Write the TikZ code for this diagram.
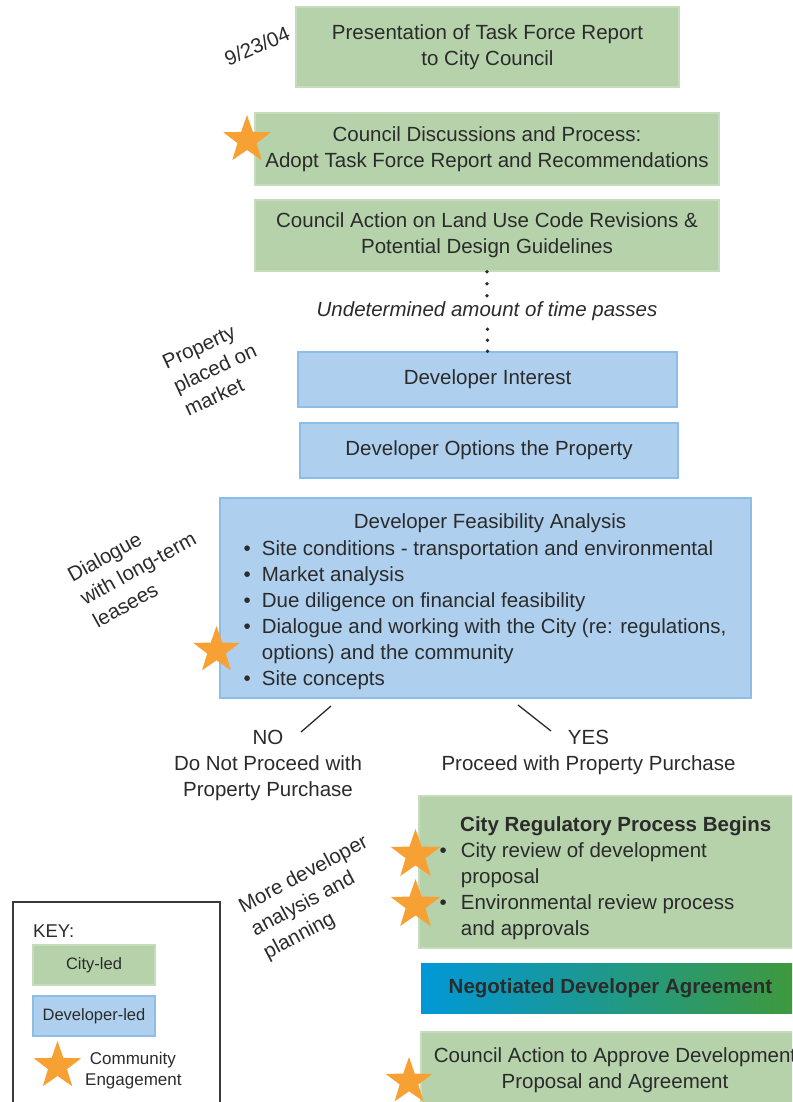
\documentclass[tikz,border=0pt]{standalone}
\usepackage{fontspec}
\setmainfont{Liberation Sans}
\usetikzlibrary{shapes.geometric}

\definecolor{cityfill}{HTML}{B5D2AB}
\definecolor{cityedge}{HTML}{C6DCBC}
\definecolor{devfill}{HTML}{AED0EE}
\definecolor{devedge}{HTML}{8EBEE8}
\definecolor{starorange}{HTML}{F7A033}
\definecolor{ink}{HTML}{2B2B2B}
\definecolor{gradblue}{HTML}{0098D8}
\definecolor{gradgreen}{HTML}{40993A}
\definecolor{keyedge}{HTML}{3A3A3A}

\newcommand\bodyfont{\fontsize{20.5}{26}\selectfont}
\newcommand\keyfont{\fontsize{16.5}{21}\selectfont}

\tikzset{
  citybox/.style={rectangle, fill=cityfill, draw=cityedge, line width=1.5pt,
    inner sep=0pt, align=center, text=ink},
  devbox/.style={rectangle, fill=devfill, draw=devedge, line width=1.5pt,
    inner sep=0pt, align=center, text=ink},
  cstar/.style={star, star points=5, star point ratio=2.5, fill=starorange,
    inner sep=0pt, minimum size=#1},
  cstar/.default=50pt,
  plain/.style={text=ink, inner sep=0pt},
  sidenote/.style={text=ink, inner sep=0pt, align=left},
  dots/.style={line width=3.6pt, line cap=round, dash pattern=on 0pt off #1, ink},
  tick/.style={line width=1.3pt, ink},
}

\begin{document}
\begin{tikzpicture}[x=1pt, y=-1pt, font=\bodyfont]
\useasboundingbox (0,0) rectangle (792,1102);
\clip (0,0) rectangle (792,1102);

% ---- council steps
\node[citybox, minimum width=383pt, minimum height=80pt] (b1) at (487.5,47)
  {Presentation of Task Force Report\\to City Council};
\node[sidenote, rotate=23] (date) at (257,46) {9/23/04};

\node[citybox, minimum width=464pt, minimum height=72pt] (b2) at (487,149)
  {Council Discussions and Process:\\Adopt Task Force Report and Recommendations};
\node[cstar=50pt] (s1) at (247,140) {};

\node[citybox, minimum width=464pt, minimum height=71pt] (b3) at (487,235.5)
  {Council Action on Land Use Code Revisions \&\\Potential Design Guidelines};

% ---- developer steps
\node[devbox, minimum width=379pt, minimum height=55pt] (b4) at (487.5,379.5)
  {Developer Interest};
\node[devbox, minimum width=378pt, minimum height=55pt] (b5) at (489,450.5)
  {Developer Options the Property};
\node[sidenote, rotate=25] (market) at (215,368) {Property\\placed on\\market};

% ---- waiting period
\node[plain, font=\bodyfont\itshape] (wait) at (487,311) {Undetermined amount of time passes};
\draw[dots=12pt] (b3.south) -- ++(0,24);
\draw[dots=11pt] (b4.north) -- ++(0,-22);

\node[devbox, minimum width=531pt, minimum height=200pt] (b6) at (485.5,598) {};
\node[plain, anchor=base] (b6title) at (490,528) {Developer Feasibility Analysis};
\node[plain, anchor=base west] (b6list) at (243.5,555)
  {\begin{tabular}[t]{@{}c@{\hspace{11pt}}l@{}}
   \textbullet & Site conditions - transportation and environmental\\
   \textbullet & Market analysis\\
   \textbullet & Due diligence on financial feasibility\\
   \textbullet & Dialogue and working with the City (re: regulations,\\
               & options) and the community\\
   \textbullet & Site concepts
   \end{tabular}};
\node[cstar=49pt] (s2) at (216.5,650.5) {};
\node[sidenote, rotate=29] (lease) at (138,568) {Dialogue\\with long-term\\leasees};

% ---- decision
\coordinate (noA) at (331,706);
\coordinate (noB) at (301,732);
\coordinate (yesA) at (518,705);
\coordinate (yesB) at (551,731);
\draw[tick] (noA) -- (noB);
\draw[tick] (yesA) -- (yesB);
\node[plain, align=center] (no) at (268,765)
  {NO\\Do Not Proceed with\\Property Purchase};
\node[plain, align=center] (yes) at (588.5,752)
  {YES\\Proceed with Property Purchase};

% ---- regulatory process
\node[citybox, minimum width=381pt, minimum height=152pt] (b7) at (609.5,872) {};
\node[plain, anchor=base west, font=\bodyfont\bfseries] (b7title) at (460,831)
  {City Regulatory Process Begins};
\node[plain, anchor=base west] (b7list) at (439.5,857)
  {\begin{tabular}[t]{@{}c@{\hspace{14pt}}l@{}}
   \textbullet & City review of development\\
               & proposal\\
   \textbullet & Environmental review process\\
               & and approvals
   \end{tabular}};
\node[cstar=52pt] (s3) at (415.5,855) {};
\node[cstar=52pt] (s4) at (415.5,905) {};
\node[sidenote, rotate=28] (more) at (316,898) {More developer\\analysis and\\planning};

\node[rectangle, left color=gradblue, right color=gradgreen, minimum width=379pt,
  minimum height=50pt, inner sep=0pt, text=ink, font=\bodyfont\bfseries] (b8) at (610.5,988)
  {Negotiated Developer Agreement};

\node[citybox, minimum width=379pt, minimum height=78pt] (b9) at (610.5,1071) {};
\node[plain, align=center] (b9text) at (615,1070)
  {Council Action to Approve Development\\Proposal and Agreement};
\node[cstar=49pt] (s5) at (409,1081.5) {};

% ---- key
\node[rectangle, draw=keyedge, line width=1.5pt, minimum width=207pt,
  minimum height=215pt, inner sep=0pt, anchor=north west] (key) at (12,901) {};
\node[plain, anchor=base west, font=\fontsize{18.5}{22}\selectfont] (keytitle) at (33,937) {KEY:};
\node[citybox, minimum width=122pt, minimum height=40pt, font=\keyfont] (kcity) at (94,965) {City-led};
\node[devbox, minimum width=122pt, minimum height=40pt, font=\keyfont] (kdev) at (94,1016) {Developer-led};
\node[cstar=50pt] (kstar) at (57.5,1066) {};
\node[plain, anchor=base west, align=left, font=\fontsize{17}{21}\selectfont] (kstartext) at (85,1085)
  {\ Community\\Engagement};
\end{tikzpicture}
\end{document}
